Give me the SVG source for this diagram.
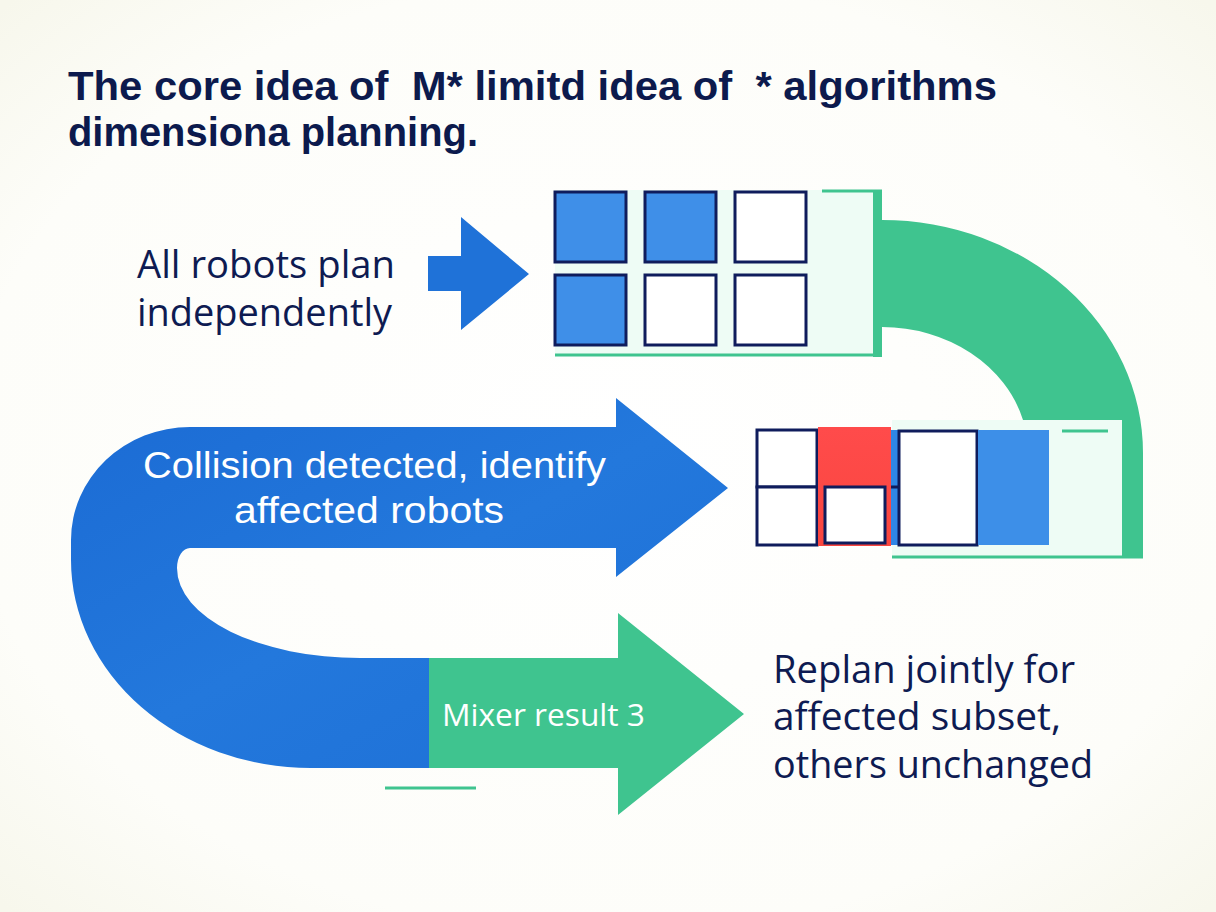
<svg xmlns="http://www.w3.org/2000/svg" width="1216" height="912" viewBox="0 0 1216 912">
  <defs>
    <radialGradient id="bg" cx="50%" cy="50%" r="70%">
      <stop offset="0" stop-color="#ffffff"/>
      <stop offset="0.75" stop-color="#fdfdf9"/>
      <stop offset="1" stop-color="#f7f7ec"/>
    </radialGradient>
    <linearGradient id="blueArrow" x1="0" y1="0" x2="1" y2="1">
      <stop offset="0" stop-color="#1b6bd4"/>
      <stop offset="0.5" stop-color="#2378dc"/>
      <stop offset="1" stop-color="#1d6fd6"/>
    </linearGradient>
    <linearGradient id="redFill" x1="0" y1="0" x2="0" y2="1">
      <stop offset="0" stop-color="#ff4b4b"/>
      <stop offset="1" stop-color="#f9463f"/>
    </linearGradient>
    <style>
      .title { font-family: "Liberation Sans", Arial, sans-serif; font-weight: bold; font-size: 41px; fill: #0c1a4d; white-space: pre; }
      .body { font-family: "Open Sans", "Liberation Sans", sans-serif; font-size: 38px; fill: #0e1b52; }
      .inArrow { font-family: "Liberation Sans", Arial, sans-serif; font-size: 37px; fill: #ffffff; }
      .small { font-family: "Open Sans", "Liberation Sans", sans-serif; font-size: 31px; fill: #ffffff; font-weight: 500; }
      .cell { stroke: #0f1c5c; stroke-width: 3; }
      .blueCell { fill: #3f8fe8; }
      .whiteCell { fill: #ffffff; }
      .mint { fill: #eefcf5; }
      .green { fill: #3fc48f; }
      .greenLine { stroke: #3fc48f; stroke-width: 3; fill: none; }
    </style>
  </defs>

  <rect x="0" y="0" width="1216" height="912" fill="url(#bg)"/>

  <g id="title">
    <text class="title" x="68" y="100" textLength="929" lengthAdjust="spacingAndGlyphs">The core idea of  M* limitd idea of  * algorithms</text>
    <text class="title" x="68" y="146" textLength="410" lengthAdjust="spacingAndGlyphs">dimensiona planning.</text>
  </g>

  <g id="connectors">
    <path id="arrow-top" d="M428 256 L461 256 L461 217 L529 274 L461 330 L461 291 L428 291 Z" fill="#1f72d8"/>
    <path id="arc-green" class="green" d="M882 220 A261 233 0 0 1 1143 453 L1143 558 L1122 558 L1122 420 L1023 420 A146 126 0 0 0 882 327 Z"/>
    <path id="arrow-u" d="M616 427 L190 427 A119 113 0 0 0 71 540 L71 560 A240 208 0 0 0 311 768 L429 768 L429 658 L360 658 A183 90 0 0 1 177 568 A13 20 0 0 1 190 548 L616 548 L616 577 L728 488 L616 398 Z" fill="url(#blueArrow)"/>
    <path id="arrow-green" class="green" d="M429 658 L618 658 L618 613 L744 714 L618 815 L618 768 L429 768 Z"/>
    <line class="greenLine" x1="385" y1="788" x2="476" y2="788"/>
  </g>

  <g id="node-independent">
    <text class="body" x="137" y="278" textLength="258" lengthAdjust="spacingAndGlyphs">All robots plan</text>
    <text class="body" x="137" y="326" textLength="255" lengthAdjust="spacingAndGlyphs">independently</text>
  </g>

  <g id="node-grid-top">
    <rect class="mint" x="555" y="190" width="318" height="165"/>
    <rect class="green" x="873" y="190" width="9" height="167"/>
    <line class="greenLine" x1="822" y1="191" x2="882" y2="191"/>
    <line class="greenLine" x1="555" y1="355" x2="882" y2="355"/>
    <rect class="cell blueCell" x="555" y="192" width="71" height="70"/>
    <rect class="cell blueCell" x="645" y="192" width="71" height="70"/>
    <rect class="cell whiteCell" x="735" y="192" width="71" height="70"/>
    <rect class="cell blueCell" x="555" y="275" width="71" height="70"/>
    <rect class="cell whiteCell" x="645" y="275" width="71" height="70"/>
    <rect class="cell whiteCell" x="735" y="275" width="71" height="70"/>
  </g>

  <g id="node-grid-bottom">
    <rect class="mint" x="892" y="420" width="230" height="137"/>
    <line class="greenLine" x1="892" y1="557" x2="1143" y2="557"/>
    <line class="greenLine" x1="1062" y1="431" x2="1108" y2="431"/>
    <rect class="cell whiteCell" x="757" y="430" width="60" height="57"/>
    <rect class="cell whiteCell" x="757" y="487" width="60" height="58"/>
    <rect x="818" y="427" width="73" height="119" fill="url(#redFill)"/>
    <rect class="cell whiteCell" x="825" y="487" width="60" height="56"/>
    <rect x="891" y="430" width="8" height="115" fill="#2f86e6"/>
    <line x1="891" y1="487" x2="899" y2="487" stroke="#0f1c5c" stroke-width="3"/>
    <rect class="cell whiteCell" x="899" y="431" width="78" height="114"/>
    <rect x="978" y="430" width="71" height="115" fill="#3d8fe8"/>
  </g>

  <g id="node-collision">
    <text class="inArrow" x="143" y="478" textLength="463" lengthAdjust="spacingAndGlyphs">Collision detected, identify</text>
    <text class="inArrow" x="234" y="523" textLength="270" lengthAdjust="spacingAndGlyphs">affected robots</text>
  </g>

  <g id="node-mixer">
    <text class="small" x="442" y="726" textLength="203" lengthAdjust="spacingAndGlyphs">Mixer result 3</text>
  </g>

  <g id="node-replan">
    <text class="body" x="773" y="683" textLength="302" lengthAdjust="spacingAndGlyphs">Replan jointly for</text>
    <text class="body" x="773" y="730" textLength="288" lengthAdjust="spacingAndGlyphs">affected subset,</text>
    <text class="body" x="773" y="778" textLength="320" lengthAdjust="spacingAndGlyphs">others unchanged</text>
  </g>
</svg>
